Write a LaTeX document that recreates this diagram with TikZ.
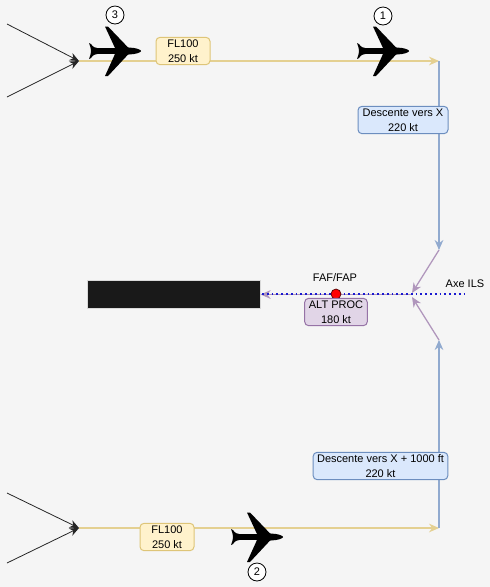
\documentclass[tikz,border=0pt]{standalone}
\usepackage{fontspec}
\setmainfont{Liberation Sans}
\usetikzlibrary{arrows.meta}

\definecolor{bgcol}{HTML}{F5F5F5}
\definecolor{yellowfill}{HTML}{FFF2CC}
\definecolor{yellowline}{HTML}{D6B656}
\definecolor{bluefill}{HTML}{DAE8FC}
\definecolor{blueline}{HTML}{6C8EBF}
\definecolor{purplefill}{HTML}{E1D5E7}
\definecolor{purpleline}{HTML}{9673A6}
\definecolor{ilsblue}{HTML}{1A1AD0}

\tikzset{
    speedbox/.style={draw, rounded corners=3pt, line width=0.75pt, align=center,
        inner sep=0pt, font=\fontsize{8.25}{11.5}\selectfont},
    flbox/.style={speedbox, fill=yellowfill, draw=yellowline!80!white, minimum width=40.5pt, minimum height=20.5pt},
    descbox/.style={speedbox, fill=bluefill, draw=blueline, minimum height=20.5pt},
    procbox/.style={speedbox, fill=purplefill, draw=purpleline, minimum width=47pt, minimum height=20.5pt},
    numcircle/.style={circle, draw, fill=white, line width=0.6pt, minimum size=13.5pt, inner sep=0pt,
        font=\fontsize{8.25}{10}\selectfont},
    plainlabel/.style={inner sep=0pt, font=\fontsize{8.25}{10}\selectfont},
    entry/.style={-{Stealth[length=7pt,width=6pt]}, black!85, line width=0.6pt},
    flight/.style={-{Stealth[length=7.5pt,width=6.5pt]}, yellowline!65!white, line width=0.95pt},
    descent/.style={-{Stealth[length=7.5pt,width=6.5pt]}, blueline!75!white, line width=0.85pt},
    intercept/.style={-{Stealth[length=7.5pt,width=6.5pt]}, purpleline!75!white, line width=0.95pt},
    plane/.pic={
        \fill[black]
            (0,-8) -- (2,-7) .. controls (4,-4) and (6,-3) .. (9,-2.8)
            -- (26,-3) -- (16,-24.5) -- (19,-24.5) -- (39,-3.6)
            -- (45,-3) .. controls (49,-2.4) and (52,-1) .. (52,0)
            .. controls (52,1) and (49,2.4) .. (45,3)
            -- (39,3.6) -- (19,25) -- (16,25) -- (26,3)
            -- (9,2.8) .. controls (6,3) and (4,4) .. (2,7)
            -- (0,8) .. controls (1.5,4) and (2,2) .. (2,0)
            .. controls (2,-2) and (1.5,-4) .. (0,-8) -- cycle;
    }
}

\begin{document}
\begin{tikzpicture}[x=0.75pt, y=-0.75pt]
    \useasboundingbox (0,0) rectangle (490,587);
    \fill[bgcol] (0,0) rectangle (490,587);

    % Route points
    \coordinate (entryA) at (7,24);
    \coordinate (entryB) at (7,97);
    \coordinate (mergeTop) at (79,61);
    \coordinate (turnTop) at (439,61);
    \coordinate (entryC) at (7,493);
    \coordinate (entryD) at (7,563);
    \coordinate (mergeBot) at (79,528);
    \coordinate (turnBot) at (439,528);
    \coordinate (baseTop) at (439,250);
    \coordinate (baseBot) at (439,340);
    \coordinate (joinTop) at (412,293);
    \coordinate (joinBot) at (412,297);
    \coordinate (join) at (412,294.5);
    \coordinate (ilsStart) at (262,294);
    \coordinate (ilsEnd) at (467,294);

    % Runway
    \node[fill=black!90, draw=black!15, line width=0.4pt, minimum width=129.5pt, minimum height=21pt,
        inner sep=0pt] (runway) at (174,294) {};

    % Inbound legs
    \draw[entry] (entryA) -- (mergeTop);
    \draw[entry] (entryB) -- (mergeTop);
    \draw[entry] (entryC) -- (mergeBot);
    \draw[entry] (entryD) -- (mergeBot);

    % Level segments
    \draw[flight] (mergeTop) -- (turnTop);
    \draw[flight] (mergeBot) -- (turnBot);

    % Descent segments
    \draw[descent] (turnTop) -- (baseTop);
    \draw[descent] (turnBot) -- (baseBot);

    % Intercept and final
    \draw[intercept] (baseTop) -- (joinTop);
    \draw[intercept] (baseBot) -- (joinBot);
    \draw[intercept, line width=1.3pt] (join) -- (runway.east |- join);
    \draw[ilsblue, line width=1.3pt, dash pattern=on 1.3pt off 2.3pt] (ilsStart) -- (ilsEnd);

    % FAF
    \node[circle, draw=black!70!red, fill=red, line width=0.5pt, minimum size=7.5pt, inner sep=0pt] (faf) at (336,294) {};
    \node[plainlabel] (faflabel) at (335,278) {FAF/FAP};
    \node[plainlabel] (ilslabel) at (465,284) {Axe ILS};

    % Boxes
    \node[flbox] (levelTop) at (183,51) {FL100\\250 kt};
    \node[flbox] (levelBot) at (167,537) {FL100\\250 kt};
    \node[descbox, minimum width=67.5pt] (descTop) at (403,120) {Descente vers X\\220 kt};
    \node[descbox, minimum width=101pt] (descBot) at (380.5,466) {Descente vers X + 1000 ft\\220 kt};
    \node[procbox] (proc) at (336,312) {ALT PROC\\180 kt};

    % Aircraft
    \pic at (89,51) {plane};
    \pic at (357,51) {plane};
    \pic at (231,537) {plane};
    \node[numcircle] (numThree) at (115,15) {3};
    \node[numcircle] (numOne) at (383,16) {1};
    \node[numcircle] (numTwo) at (257,572) {2};

\end{tikzpicture}
\end{document}
